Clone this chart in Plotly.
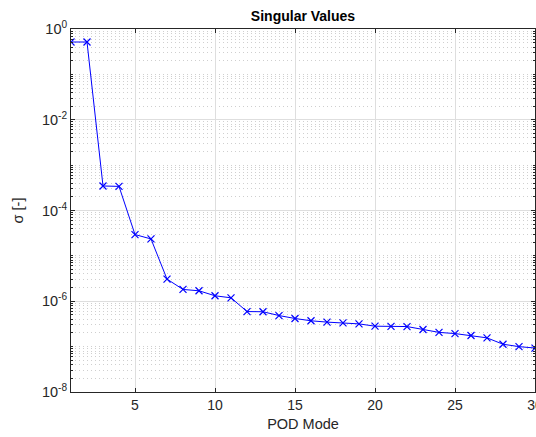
import plotly.graph_objects as go

modes = list(range(1, 31))
sigma = [0.517, 0.517, 3.47e-4, 3.40e-4, 2.95e-5, 2.36e-5, 3.08e-6, 1.82e-6, 1.70e-6, 1.32e-6,
         1.19e-6, 5.93e-7, 5.87e-7, 4.84e-7, 4.17e-7, 3.71e-7, 3.47e-7, 3.34e-7, 3.17e-7, 2.82e-7,
         2.80e-7, 2.77e-7, 2.39e-7, 2.06e-7, 1.94e-7, 1.76e-7, 1.56e-7, 1.13e-7, 1.00e-7, 9.3e-8]

xticks = [5, 10, 15, 20, 25, 30]
yexp = [0, -2, -4, -6, -8]
ytickvals = [10.0 ** e for e in yexp]
yticktext = ["10<sup>%d</sup>" % e for e in yexp]
minor_vals = [m * 10.0 ** e for e in range(-8, 0) for m in range(1, 10)]

font = "Liberation Sans, Arial, sans-serif"
axcol = "#262626"

fig = go.Figure()
fig.add_trace(go.Scatter(
    x=modes, y=sigma, mode="lines+markers",
    line=dict(color="#0000ff", width=1),
    marker=dict(symbol="x-thin", size=7, color="#0000ff",
                line=dict(color="#0000ff", width=1.2)),
    showlegend=False,
))

fig.update_layout(
    width=536, height=437,
    margin=dict(l=71, r=1, t=29, b=45, autoexpand=False),
    paper_bgcolor="white", plot_bgcolor="white",
    font=dict(family=font, size=14, color=axcol),
    title=dict(text="<b>Singular Values</b>", x=(71 + 535) / 2 / 536, xanchor="center",
               y=1 - 16 / 437, yanchor="middle",
               font=dict(family=font, size=14, color="black")),
)
fig.update_xaxes(
    range=[1, 30], tickvals=xticks, ticks="inside", ticklen=4, tickcolor=axcol,
    showline=True, linecolor=axcol, linewidth=1, mirror="ticks",
    showgrid=True, gridcolor="#dedede", gridwidth=1, zeroline=False,
    tickfont=dict(size=14, color=axcol), ticklabeloverflow="allow",
    title=dict(text="POD Mode", font=dict(size=14.5, color=axcol), standoff=7),
    automargin=False,
)
fig.update_yaxes(
    type="log", range=[-8, 0], tickvals=ytickvals, ticktext=yticktext,
    ticks="inside", ticklen=4, tickcolor=axcol,
    showline=True, linecolor=axcol, linewidth=1, mirror="ticks",
    showgrid=True, gridcolor="#dedede", gridwidth=1, zeroline=False,
    tickfont=dict(size=14.5, color=axcol),
    minor=dict(tickvals=minor_vals, ticks="inside", ticklen=2, tickcolor=axcol,
               showgrid=True, gridcolor="#cfcfcf", griddash="1px,3px", gridwidth=1),
    title=dict(text="σ [-]", font=dict(size=14.5, color=axcol), standoff=14),
    automargin=False,
)

fig.write_html("out.html")
